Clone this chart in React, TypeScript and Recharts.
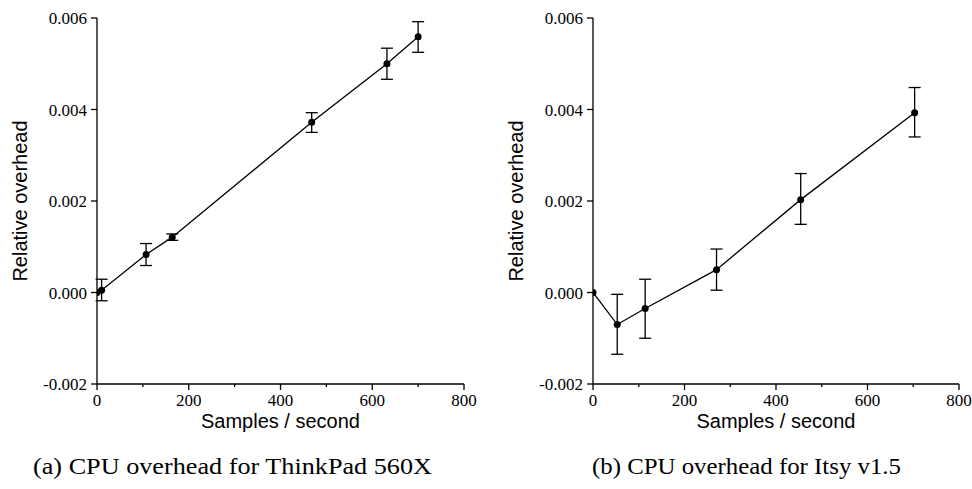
import React from 'react';
import { LineChart, Line, XAxis, YAxis, ErrorBar } from 'recharts';

const aSamples = [0, 10, 107, 164, 468, 632, 700];
const aOverhead = [0, 0.00005, 0.00083, 0.00121, 0.00372, 0.005, 0.00559];
const aErrLow = [null, 0.00023, 0.00024, 0.00007, 0.00022, 0.00034, 0.00034];
const aErrHigh = [null, 0.00024, 0.00024, 0.00007, 0.00021, 0.00034, 0.00033];

const bSamples = [0, 53, 114, 270, 454, 703];
const bOverhead = [0, -0.0007, -0.00035, 0.0005, 0.00203, 0.00393];
const bErrLow = [null, 0.00065, 0.00065, 0.00045, 0.00054, 0.00053];
const bErrHigh = [null, 0.00066, 0.00064, 0.00045, 0.00057, 0.00055];

const xTicks = [0, 100, 200, 300, 400, 500, 600, 700, 800];
const xLabelTicks = [0, 200, 400, 600, 800];
const yTicks = [-0.002, 0, 0.002, 0.004, 0.006];

const xLabel = 'Samples / second';
const yLabel = 'Relative overhead';
const captionA = '(a) CPU overhead for ThinkPad 560X';
const captionB = '(b) CPU overhead for Itsy v1.5';

function build(xs: number[], ys: number[], lo: (number | null)[], hi: (number | null)[]) {
  return xs.map((x, i) => ({
    x,
    y: ys[i],
    err: lo[i] == null ? null : [lo[i], hi[i]],
  }));
}

const dataA = build(aSamples, aOverhead, aErrLow, aErrHigh);
const dataB = build(bSamples, bOverhead, bErrLow, bErrHigh);

const SERIF = 'Liberation Serif';
const SANS = 'Liberation Sans';

const XTick = (props: any) => {
  const { x, y, payload } = props;
  const major = xLabelTicks.includes(payload.value);
  return (
    <g>
      <line x1={x} x2={x} y1={y} y2={y + (major ? 6 : 3)} stroke="#000" strokeWidth={1.3} />
      {major && (
        <text x={x} y={y + 10} dy="0.71em" textAnchor="middle" style={{ fontFamily: SERIF, fontSize: 17 }} fill="#000">
          {payload.value}
        </text>
      )}
    </g>
  );
};

const YTick = (props: any) => {
  const { x, y, payload } = props;
  return (
    <text x={x} y={y} dy="0.355em" textAnchor="end" style={{ fontFamily: SERIF, fontSize: 17 }} fill="#000">
      {Number(payload.value).toFixed(3)}
    </text>
  );
};

const XLabel = (props: any) => {
  const vb = props.viewBox || {};
  return (
    <text x={vb.x + vb.width / 2} y={428} textAnchor="middle" style={{ fontFamily: SANS, fontSize: 20 }} fill="#000">
      {xLabel}
    </text>
  );
};

const YLabel = (props: any) => {
  const vb = props.viewBox || {};
  const cx = 27;
  const cy = vb.y + vb.height / 2;
  return (
    <text x={cx} y={cy} transform={`rotate(-90 ${cx} ${cy})`} textAnchor="middle" style={{ fontFamily: SANS, fontSize: 20 }} fill="#000">
      {yLabel}
    </text>
  );
};

const Panel = ({ data, left, width, rightMargin }: { data: any[]; left: number; width: number; rightMargin: number }) => (
  <div style={{ position: 'absolute', left, top: 0 }}>
    <LineChart width={width} height={440} data={data} margin={{ top: 18, right: rightMargin, left: 0, bottom: 0 }}>
      <XAxis
        dataKey="x"
        type="number"
        domain={[0, 800]}
        ticks={xTicks}
        interval={0}
        allowDataOverflow
        axisLine={{ stroke: '#000', strokeWidth: 1.3 }}
        tickLine={false}
        tickSize={0}
        tickMargin={0}
        tick={<XTick />}
        height={56}
        label={<XLabel />}
      />
      <YAxis
        type="number"
        domain={[-0.002, 0.006]}
        ticks={yTicks}
        interval={0}
        allowDataOverflow
        width={97}
        axisLine={{ stroke: '#000', strokeWidth: 1.3 }}
        tickLine={{ stroke: '#000', strokeWidth: 1.3 }}
        tickSize={6}
        tickMargin={4}
        tick={<YTick />}
        label={<YLabel />}
      />
      <Line
        dataKey="y"
        stroke="#000"
        strokeWidth={1.3}
        dot={{ r: 3.5, fill: '#000', stroke: '#000', strokeWidth: 0 }}
        activeDot={false}
        isAnimationActive={false}
      >
        <ErrorBar dataKey="err" direction="y" width={6} stroke="#000" strokeWidth={1.3} isAnimationActive={false} />
      </Line>
    </LineChart>
  </div>
);

export default function App() {
  return (
    <div style={{ position: 'relative', width: 972, height: 489, background: '#fff', overflow: 'hidden' }}>
      <style>{`body{margin:0;background:#fff}`}</style>
      <Panel data={dataA} left={0} width={480} rightMargin={16} />
      <Panel data={dataB} left={496} width={476} rightMargin={13} />
      <svg width={972} height={489} style={{ position: 'absolute', left: 0, top: 0, pointerEvents: 'none' }}>
        <text x={33} y={474} style={{ fontFamily: SERIF, fontSize: 23 }} fill="#000" textLength={399} lengthAdjust="spacingAndGlyphs">
          {captionA}
        </text>
        <text x={592} y={474} style={{ fontFamily: SERIF, fontSize: 23 }} fill="#000" textLength={309} lengthAdjust="spacingAndGlyphs">
          {captionB}
        </text>
      </svg>
    </div>
  );
}
